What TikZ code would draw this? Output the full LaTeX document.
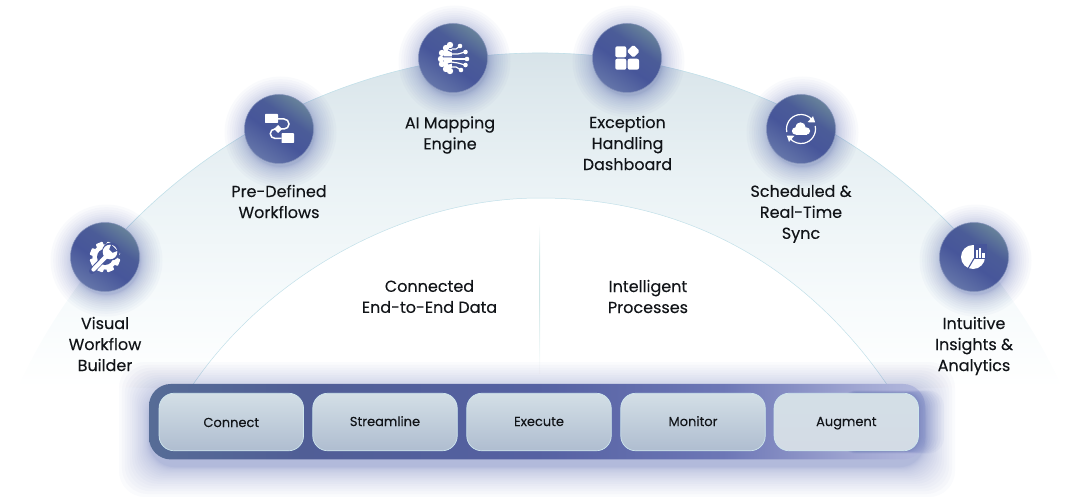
\documentclass[tikz,border=0pt]{standalone}
\usepackage{fontspec}
\setmainfont{Poppins}[FakeBold=0.22]
\definecolor{ink}{HTML}{111418}
\definecolor{dk}{HTML}{47569A}
\definecolor{glow}{HTML}{4A5CAA}
\definecolor{edgeline}{HTML}{C2E0E9}
\definecolor{d1}{HTML}{67829A}\definecolor{d2}{HTML}{4B5C98}\definecolor{d3}{HTML}{47569A}\definecolor{d4}{HTML}{6475A9}
\pgfdeclareverticalshading{discshadeb}{100bp}{color(0bp)=(d4);color(25bp)=(d4);color(45bp)=(d3);color(60bp)=(d2);color(75bp)=(d1);color(100bp)=(d1)}
\definecolor{b1}{HTML}{566C96}\definecolor{b2}{HTML}{505E96}\definecolor{b3}{HTML}{5561A2}\definecolor{b4}{HTML}{6D77B6}\definecolor{b5}{HTML}{A2A8D3}\definecolor{b6}{HTML}{B4BADE}
\pgfdeclarehorizontalshading{barshade}{100bp}{color(0bp)=(b1);color(25bp)=(b1);color(35bp)=(b2);color(50bp)=(b3);color(62bp)=(b4);color(71bp)=(b5);color(75bp)=(b6);color(100bp)=(b6)}
\definecolor{a1}{HTML}{CBD9E1}\definecolor{a2}{HTML}{DCE7EC}\definecolor{a3}{HTML}{EAF2F5}\definecolor{a4}{HTML}{F7FBFC}
\pgfdeclareverticalshading{bandshade}{100bp}{color(0bp)=(white);color(25bp)=(white);color(35bp)=(a4);color(50bp)=(a3);color(62bp)=(a2);color(75bp)=(a1);color(100bp)=(a1)}
\definecolor{v1}{HTML}{CFE6E6}
\pgfdeclareverticalshading{divshade}{100bp}{color(0bp)=(white);color(25bp)=(white);color(50bp)=(v1);color(62bp)=(v1);color(75bp)=(white);color(100bp)=(white)}
\definecolor{cella}{HTML}{D3DFE6}\definecolor{cellb}{HTML}{AFBDD0}
\tikzset{
  discnode/.style={circle,minimum size=69pt,inner sep=0pt,shading=discshadeb,shading angle=-35,draw=d4!80!white,line width=.5pt},
  lab/.style={align=center,text=ink,font=\fontsize{16}{21}\selectfont,inner sep=0pt},
  cell/.style={rounded corners=15pt,minimum width=144.5pt,minimum height=57.5pt,inner sep=0pt,draw=edgeline!80!white,line width=.7pt,top color=cella,bottom color=cellb,text=ink,text height=9pt,text depth=1pt,font=\fontsize{13}{16}\selectfont},
  ico/.style={white,line width=1.5pt},
}
\newcommand{\halo}[1]{\foreach \i in {1,...,16}{\pgfmathsetmacro{\r}{34+22*(\i/16)^2}\fill[glow,opacity=.03] ([shift={(1.5,3.5)}]#1) circle[radius=\r];}}
\begin{document}
\begin{tikzpicture}[x=1pt,y=1pt,yscale=-1]
\useasboundingbox (0,0) rectangle (1078,497);
% band
\coordinate (oc) at (540,628);
\coordinate (ol) at ([shift={(205:575)}]oc);
\coordinate (oll) at ([shift={(219:575)}]oc);
\coordinate (il) at (190,389);
\coordinate (ir) at (890,389);
\coordinate (it) at (540,198);
\path[shading=bandshade] (ol) arc[start angle=205,end angle=335,radius=575] -- (ir)
  .. controls (810,270) and (690,198) .. (it) .. controls (400,198) and (262,280) .. (il) -- cycle;
\draw[edgeline,line width=.5pt] (ir) .. controls (810,270) and (690,198) .. (it) .. controls (400,198) and (262,280) .. (il);
\draw[edgeline,line width=.6pt] (oll) arc[start angle=219,end angle=321,radius=575];
% divider
\fill[shading=divshade] (539,224) rectangle (540.2,373);
% bar halo
\foreach \i in {1,...,20}{\pgfmathsetmacro{\e}{30*(\i/20)^2}\fill[glow,opacity=.028,rounded corners=26pt] (149-\e,384+8-\e) rectangle (925+\e,459+8+\e);}
\node[rounded corners=22pt,minimum width=776pt,minimum height=75.5pt,inner sep=0pt,shading=barshade] (bar) at (537,421.7) {};
\foreach \i in {1,...,16}{\pgfmathsetmacro{\e}{26*(\i/16)^2}\fill[glow,opacity=.045,rounded corners=16pt] (840,393-\e*.1) rectangle (918+\e,451+\e*.1);}
\node[cell] (c1) at (231.3,422) {\raisebox{-1pt}{Connect}};
\node[cell] (c2) at (385,422) {Streamline};
\node[cell] (c3) at (539,422) {Execute};
\node[cell] (c4) at (693,422) {Monitor};
\node[cell,bottom color=cellb!55!white] (c5) at (846.3,422) {Augment};
% discs
\halo{105,257}\halo{279,129}\halo{453,58}\halo{627,58}\halo{801,129}\halo{974,257}
\node[discnode] (n1) at (105,257) {};
\node[discnode] (n2) at (279,129) {};
\node[discnode] (n3) at (453,58) {};
\node[discnode] (n4) at (627,58) {};
\node[discnode] (n5) at (801,129) {};
\node[discnode] (n6) at (974,257) {};
% icon 1: gear and wrench
\begin{scope}[shift={(n1.center)}]
  \foreach \a in {0,45,...,315}{\fill[white,rotate=\a+22,rounded corners=.8pt] (-3.6,-15.3) rectangle (3.6,-10);}
  \fill[white] (0,0) circle[radius=12.6];
  \fill[dk] (0,0) circle[radius=8];
  \draw[dk,line width=6pt,line cap=round] (-13,14) -- (2,-2);
  \fill[dk] (6,-5.5) circle[radius=9];
  \draw[white,line width=4.2pt,line cap=round] (-11.5,12.5) -- (2,-1.5);
  \fill[white] (5,-5) circle[radius=7.3];
  \fill[dk] (6.2,-12.5) -- (12.5,-6.2) -- (7.6,-4.2) -- (4.2,-7.6) -- cycle;
\end{scope}
% icon 2: workflow
\begin{scope}[shift={(n2.center)}]
  \fill[white,rounded corners=.6pt] (-14,-15) rectangle (-1,-6);
  \fill[white,rounded corners=.6pt] (2.5,4.2) rectangle (15,14);
  \draw[ico] (-1,-10) -- (5,-10) arc[start angle=270,end angle=450,radius=5] -- (-4,0) arc[start angle=270,end angle=90,radius=4.7] -- (2.5,9.4);
  \fill[white] (-1,-4) -- (3,0) -- (-1,4) -- (-5,0) -- cycle;
\end{scope}
% icon 3: AI
\begin{scope}[shift={(n3.center)}]
  \foreach \p/\q in {-11/-5,-12/1,-11/6,-7/-10,-7/11,-3/-13,-3/13,-6/-4,-6/4}{\fill[white] (\p,\q) circle[radius=3.2];}
  \fill[white] (-9,-9) rectangle (-1.5,10);
  \draw[dk,line width=1pt] (-9,-1) -- (-1,-1) (-5,-8) -- (-1,-6) (-5,6) -- (-1,5);
  \draw[white,line width=1.2pt] (-1.5,-9) -- (3,-9) -- (7,-12);
  \draw[white,line width=1.2pt] (-1.5,-4) -- (5,-4) -- (12,-6);
  \draw[white,line width=1.2pt] (-1.5,1) -- (13,1);
  \draw[white,line width=1.2pt] (-1.5,4) -- (5,5) -- (12,7);
  \draw[white,line width=1.2pt] (-1.5,9) -- (3,9) -- (8,12);
  \foreach \p/\q in {7/-12,12.5/-6,14/1,12.5/7,8/12}{\fill[white] (\p,\q) circle[radius=2.3];}
\end{scope}
% icon 4: dashboard
\begin{scope}[shift={(n4.center)}]
  \fill[white,rounded corners=2pt] (-11.7,-11.7) rectangle (-.7,-.7);
  \fill[white,rounded corners=2pt] (-11.7,.7) rectangle (-.7,11.7);
  \fill[white,rounded corners=2pt] (.7,.7) rectangle (12,11.7);
  \fill[white,rounded corners=1.5pt] (6.3,-13.3) -- (12.8,-6.8) -- (6.3,-.3) -- (-.2,-6.8) -- cycle;
\end{scope}
% icon 5: cloud sync
\begin{scope}[shift={(n5.center)}]
  \fill[white] (-5.5,2) circle[radius=3.6] (5.5,2) circle[radius=3.6] (-.5,-1.5) circle[radius=5.2];
  \fill[white] (-5.5,1) rectangle (5.5,5.6);
  \draw[white,line width=1.2pt] (-14.2,3) arc[start angle=168,end angle=318,radius=14.5];
  \fill[white] (14.2,-6.5) -- (6.5,-6.8) -- (12,-12.8) -- cycle;
  \draw[white,line width=1.2pt] (14.2,-3) arc[start angle=-12,end angle=138,radius=14.5];
  \fill[white] (-14.2,6.5) -- (-6.5,6.8) -- (-12,12.8) -- cycle;
\end{scope}
% icon 6: pie chart
\begin{scope}[shift={(n6.center)}]
  \fill[white] (-1,0) circle[radius=12];
  \fill[dk] (.4,-13) rectangle (13,2.2);
  \fill[white] (2,-7) rectangle (3.8,1.2);
  \fill[white] (5,-9) rectangle (6.8,1.2);
  \fill[white] (8.4,-4) rectangle (10.8,1.2);
  \draw[dk,line width=1.1pt] (0,1.5) -- (-6.5,12.5);
\end{scope}
% labels
\node[lab] (t1) at (105,344) {Visual\\Workflow\\Builder};
\node[lab] (t2) at (279,201.5) {Pre-Defined\\Workflows};
\node[lab] (t3) at (450,135) {AI Mapping\\Engine};
\node[lab] (t4) at (627.5,143) {Exception\\Handling\\Dashboard};
\node[lab] (t5) at (801,214) {Scheduled \&\\Real-Time\\Sync};
\node[lab] (t6) at (974,346) {Intuitive\\Insights \&\\Analytics};
\node[lab] (t7) at (429.5,296.5) {Connected\\End-to-End Data};
\node[lab] (t8) at (648,296.5) {Intelligent\\Processes};
\end{tikzpicture}
\end{document}
